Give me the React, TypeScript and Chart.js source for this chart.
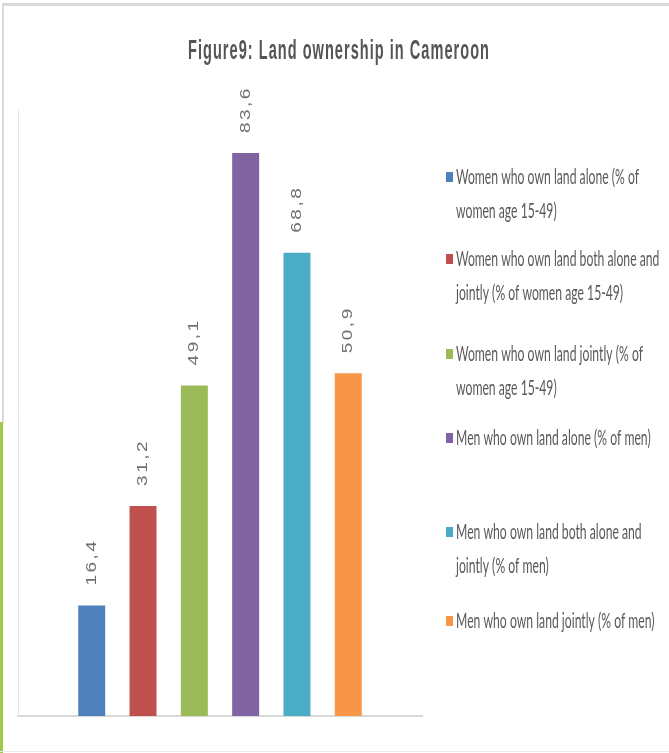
import React, { useEffect, useRef } from 'react';
import { Chart, registerables } from 'chart.js';

Chart.register(...registerables);

const TITLE = 'Figure9: Land ownership in Cameroon';

const SERIES_NAMES = [
  'Women who own land alone (% of women age 15-49)',
  'Women who own land both alone and jointly (% of women age 15-49)',
  'Women who own land jointly (% of women age 15-49)',
  'Men who own land alone (% of men)',
  'Men who own land both alone and jointly (% of men)',
  'Men who own land jointly (% of men)',
];

const LEGEND_LINES = [
  ['Women who own land alone (% of', 'women age 15-49)'],
  ['Women who own land both alone and', 'jointly (% of women age 15-49)'],
  ['Women who own land jointly (% of', 'women age 15-49)'],
  ['Men who own land alone (% of men)'],
  ['Men who own land both alone and', 'jointly (% of men)'],
  ['Men who own land jointly (% of men)'],
];

const VALUES = [16.4, 31.2, 49.1, 83.6, 68.8, 50.9];

const COLORS = ['#4f81bd', '#c0504d', '#9bbb59', '#8064a2', '#4bacc6', '#f79646'];

const Y_MIN = 0;
const Y_MAX = 90;

// legend layout (item first-line centres, line height)
const LEGEND_ITEM_Y = [177, 259, 354, 438, 532, 621];
const LEGEND_LINE_H = 34;
const LEGEND_X = 446;

const fmt = (v: number) => v.toFixed(1).replace('.', ',');

const overlay = {
  id: 'overlay',
  beforeDraw(chart: any) {
    const ctx = chart.ctx;
    const W = chart.width;
    const H = chart.height;
    ctx.save();
    ctx.fillStyle = '#ffffff';
    ctx.fillRect(0, 0, W, H);
    // frame
    ctx.fillStyle = '#d9d9d9';
    ctx.fillRect(2, 3, W - 2, 3);
    ctx.fillRect(2, 3, 2, 420);
    ctx.fillStyle = '#9dcb48';
    ctx.fillRect(0, 422, 3, H - 422);
    ctx.fillStyle = '#ececec';
    ctx.fillRect(0, H - 2, W, 1);
    ctx.restore();
  },
  afterDatasetsDraw(chart: any) {
    const ctx = chart.ctx;
    ctx.save();
    ctx.fillStyle = '#707070';
    ctx.font = '19px "Liberation Sans", Arial, sans-serif';
    (ctx as any).letterSpacing = '2.5px';
    ctx.textAlign = 'left';
    ctx.textBaseline = 'middle';
    chart.data.datasets.forEach((ds: any, i: number) => {
      const el = chart.getDatasetMeta(i).data[0];
      if (!el) return;
      ctx.save();
      ctx.translate(el.x, el.y - 20);
      ctx.rotate(-Math.PI / 2);
      ctx.scale(1, 0.78);
      ctx.fillText(fmt(ds.data[0]), 0, 0);
      ctx.restore();
    });
    ctx.restore();
  },
  afterDraw(chart: any) {
    const ctx = chart.ctx;
    // title
    ctx.save();
    ctx.fillStyle = '#555555';
    ctx.font = 'bold 28px "Liberation Sans", Arial, sans-serif';
    (ctx as any).letterSpacing = '2px';
    const tw = ctx.measureText(TITLE).width;
    const tsx = 302 / tw;
    ctx.translate(188, 59);
    ctx.scale(tsx, 1);
    ctx.textAlign = 'left';
    ctx.textBaseline = 'alphabetic';
    ctx.fillText(TITLE, 0, 0);
    ctx.restore();

    // legend
    ctx.save();
    ctx.font = '21px Lato, "Liberation Sans", sans-serif';
    const lw = ctx.measureText(LEGEND_LINES[0][0]).width;
    const lsx = 183 / lw;
    chart.data.datasets.forEach((ds: any, i: number) => {
      const y0 = LEGEND_ITEM_Y[i];
      ctx.fillStyle = ds.backgroundColor;
      ctx.fillRect(LEGEND_X, y0 - 5, 7, 10);
      ctx.fillStyle = '#595959';
      ctx.textAlign = 'left';
      ctx.textBaseline = 'middle';
      LEGEND_LINES[i].forEach((line, j) => {
        ctx.save();
        ctx.translate(LEGEND_X + 10, y0 + j * LEGEND_LINE_H);
        ctx.scale(lsx, 1);
        ctx.fillText(line, 0, 0);
        ctx.restore();
      });
    });
    ctx.restore();
  },
};

export default function App() {
  const ref = useRef<HTMLCanvasElement | null>(null);

  useEffect(() => {
    if (!ref.current) return;
    const chart = new Chart(ref.current, {
      type: 'bar',
      data: {
        labels: [''],
        datasets: SERIES_NAMES.map((name, i) => ({
          label: name,
          data: [VALUES[i]],
          backgroundColor: COLORS[i],
          borderWidth: 0,
          categoryPercentage: 0.762,
          barPercentage: 0.526,
        })),
      },
      options: {
        responsive: false,
        animation: false,
        devicePixelRatio: 1,
        layout: { padding: { left: 18, top: 110, right: 247, bottom: 37 } },
        scales: {
          x: {
            grid: { display: false },
            ticks: { display: false },
            border: { display: true, color: '#d9d9d9', width: 2 },
            afterFit: (s: any) => { s.height = 0; },
          },
          y: {
            min: Y_MIN,
            max: Y_MAX,
            grid: { display: false },
            ticks: { display: false },
            border: { display: true, color: '#e6e6e6', width: 1 },
            afterFit: (s: any) => { s.width = 0; },
          },
        },
        plugins: {
          legend: { display: false },
          title: { display: false },
          tooltip: { enabled: false },
        },
      },
      plugins: [overlay],
    });
    return () => chart.destroy();
  }, []);

  return (
    <div style={{ position: 'fixed', left: 0, top: 0, width: 669, height: 753 }}>
      <canvas ref={ref} width={669} height={753} style={{ display: 'block' }} />
    </div>
  );
}
